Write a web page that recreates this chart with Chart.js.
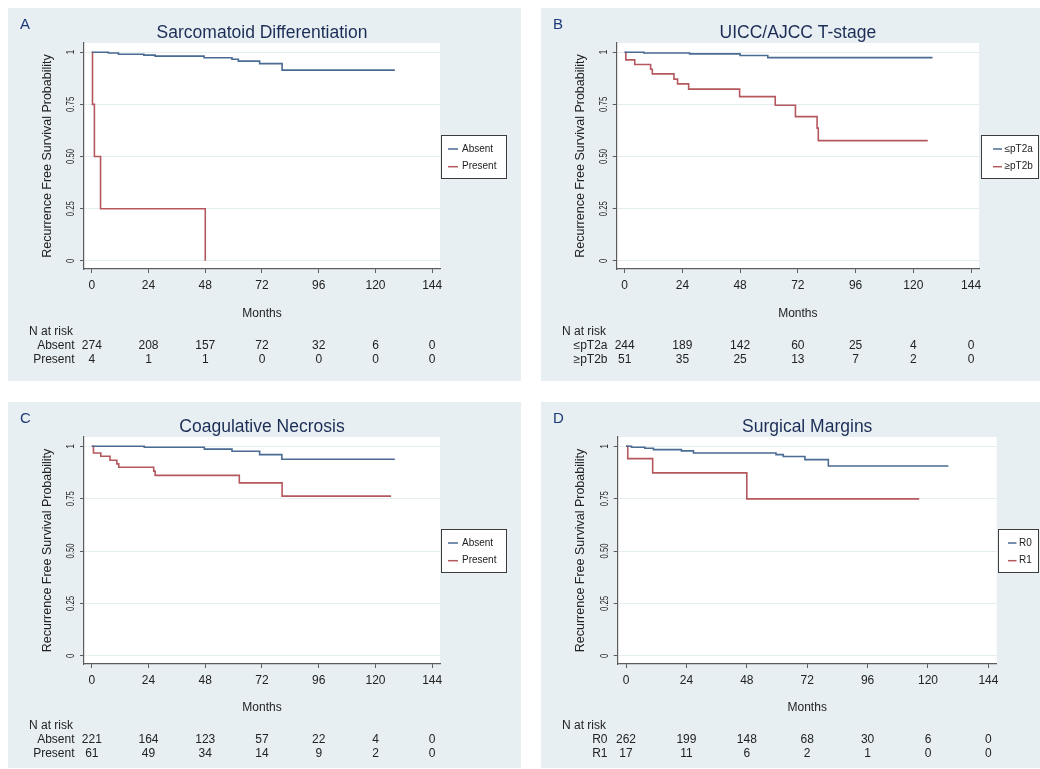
<!DOCTYPE html>
<html><head><meta charset="utf-8">
<script src="https://cdn.jsdelivr.net/npm/chart.js@4.4.1/dist/chart.umd.min.js"></script>
<style>
html,body{margin:0;padding:0;background:#fff;width:1040px;height:769px;overflow:hidden}
canvas{position:absolute;display:block}
</style></head><body>
<canvas id="cA" width="513" height="373" style="left:8px;top:8px;width:513px;height:373px"></canvas>
<canvas id="cB" width="499" height="373" style="left:541px;top:8px;width:499px;height:373px"></canvas>
<canvas id="cC" width="513" height="366" style="left:8px;top:402px;width:513px;height:366px"></canvas>
<canvas id="cD" width="499" height="366" style="left:541px;top:402px;width:499px;height:366px"></canvas>
<script>
// ---- shared axes ----
const monthTicks = [0, 24, 48, 72, 96, 120, 144];
const probTicks = [0, 0.25, 0.5, 0.75, 1];
const probLabels = ['0', '0.25', '0.50', '0.75', '1'];

// ---- Panel A: Sarcomatoid Differentiation ----
const sarcNames = ['Absent', 'Present'];
const sarcAbsentTime = [0, 7, 11.3, 22, 26.8, 47.5, 59.3, 62, 71, 80.5, 128.2];
const sarcAbsentSurv = [1, 0.996, 0.990, 0.986, 0.981, 0.973, 0.966, 0.957, 0.945, 0.914, 0.914];
const sarcPresentTime = [0, 0.3, 1.1, 3.7, 48];
const sarcPresentSurv = [1, 0.75, 0.5, 0.25, 0];
const sarcAbsentRisk = [274, 208, 157, 72, 32, 6, 0];
const sarcPresentRisk = [4, 1, 1, 0, 0, 0, 0];

// ---- Panel B: UICC/AJCC T-stage ----
const stageNames = ['≤pT2a', '≥pT2b'];
const stageLowTime = [0, 8, 27, 48, 59.5, 128];
const stageLowSurv = [1, 0.996, 0.992, 0.984, 0.974, 0.974];
const stageHighTime = [0, 0.5, 4.2, 10.8, 11.5, 20.5, 22, 26.6, 47.8, 62.6, 71, 80, 80.5, 126];
const stageHighSurv = [1, 0.963, 0.941, 0.918, 0.896, 0.871, 0.848, 0.823, 0.787, 0.746, 0.691, 0.636, 0.576, 0.576];
const stageLowRisk = [244, 189, 142, 60, 25, 4, 0];
const stageHighRisk = [51, 35, 25, 13, 7, 2, 0];

// ---- Panel C: Coagulative Necrosis ----
const necNames = ['Absent', 'Present'];
const necAbsentTime = [0, 22.2, 47.6, 59.3, 71, 80.4, 128.2];
const necAbsentSurv = [1, 0.995, 0.986, 0.976, 0.960, 0.938, 0.938];
const necPresentTime = [0, 0.7, 3.8, 7.7, 10.6, 11.4, 26.2, 26.8, 62.4, 80.5, 126.6];
const necPresentSurv = [1, 0.968, 0.952, 0.933, 0.916, 0.900, 0.881, 0.861, 0.825, 0.762, 0.762];
const necAbsentRisk = [221, 164, 123, 57, 22, 4, 0];
const necPresentRisk = [61, 49, 34, 14, 9, 2, 0];

// ---- Panel D: Surgical Margins ----
const marginNames = ['R0', 'R1'];
const marginR0Time = [0, 2.2, 7.5, 10.9, 22, 26.8, 59.6, 62.5, 71.1, 80.4, 128.1];
const marginR0Surv = [1, 0.995, 0.990, 0.984, 0.978, 0.968, 0.960, 0.951, 0.936, 0.906, 0.906];
const marginR1Time = [0, 0.7, 10.6, 48, 116.5];
const marginR1Surv = [1, 0.941, 0.873, 0.749, 0.749];
const marginR0Risk = [262, 199, 148, 68, 30, 6, 0];
const marginR1Risk = [17, 11, 6, 2, 1, 0, 0];

// ---- styling ----
const FONT = '"Liberation Sans", Arial, Helvetica, sans-serif';
Chart.defaults.font.family = FONT;
Chart.defaults.color = '#222';
const BLUE = '#4a6b92', RED = '#b4585e';
const PANEL_BG = '#e8eff2';
const AXIS = '#5c5c5c';

function pts(t, s) { return t.map((x, i) => ({ x: x, y: s[i] })); }

const decor = {
  id: 'decor',
  beforeDraw(chart) {
    const { ctx, chartArea: a, width, height } = chart;
    ctx.save();
    ctx.fillStyle = PANEL_BG; ctx.fillRect(0, 0, width, height);
    ctx.fillStyle = '#fff'; ctx.fillRect(a.left, a.top, a.right - a.left, a.bottom - a.top);
    ctx.restore();
  },
  afterDraw(chart) {
    const o = chart.options.plugins.decor;
    const { ctx, chartArea: a } = chart;
    const xs = chart.scales.x, ys = chart.scales.y;
    const x0 = xs.getPixelForValue(0), x144 = xs.getPixelForValue(144);
    const cx = (x0 + x144) / 2;
    ctx.save();
    // panel letter
    ctx.fillStyle = '#1d3a78'; ctx.font = '15px ' + FONT;
    ctx.textAlign = 'left'; ctx.textBaseline = 'middle';
    ctx.fillText(o.letter, 12, 17);
    // title
    ctx.fillStyle = '#1b2d56'; ctx.font = '17.5px ' + FONT; ctx.textAlign = 'center';
    ctx.fillText(o.title, cx, 25);
    // y axis title
    ctx.fillStyle = '#222'; ctx.font = '12.5px ' + FONT;
    ctx.save(); ctx.translate(40, (a.top + a.bottom) / 2); ctx.rotate(-Math.PI / 2);
    ctx.fillText('Recurrence Free Survival Probability', 0, 0); ctx.restore();
    // y tick labels (rotated)
    ctx.font = '10.5px ' + FONT;
    probTicks.forEach((v, i) => {
      ctx.save(); ctx.translate(a.left - 13, ys.getPixelForValue(v)); ctx.rotate(-Math.PI / 2);
      ctx.scale(0.74, 1);
      ctx.fillText(probLabels[i], 0, 0); ctx.restore();
    });
    // x axis title
    ctx.font = '12px ' + FONT; ctx.textAlign = 'center';
    ctx.fillText('Months', cx, 306);
    // risk table
    ctx.textAlign = 'left'; ctx.fillText('N at risk', 21, 323.5);
    o.risk.forEach((row, r) => {
      const y = 338 + r * 14;
      ctx.textAlign = 'right'; ctx.fillText(o.names[r], 66.5, y);
      ctx.textAlign = 'center';
      row.forEach((n, k) => ctx.fillText(String(n), xs.getPixelForValue(monthTicks[k]), y));
    });
    // legend
    const L = o.legendBox;
    ctx.fillStyle = '#fff'; ctx.fillRect(L.left, 127, L.width, 43);
    ctx.strokeStyle = '#3c3c3c'; ctx.lineWidth = 1;
    ctx.strokeRect(L.left + 0.5, 127.5, L.width, 43);
    ctx.font = '10px ' + FONT; ctx.textAlign = 'left';
    [BLUE, RED].forEach((c, i) => {
      const y = 141 + i * 17.7;
      ctx.strokeStyle = c; ctx.lineWidth = 1.5;
      ctx.beginPath(); ctx.moveTo(L.left + L.line0, y); ctx.lineTo(L.left + L.line1, y); ctx.stroke();
      ctx.fillStyle = '#222'; ctx.fillText(o.names[i], L.left + L.text, y);
    });
    ctx.restore();
  }
};

function makePanel(id, cfg) {
  const canvas = document.getElementById(id);
  const H = canvas.height;
  return new Chart(canvas, {
    type: 'line',
    data: {
      datasets: cfg.series.map((s, i) => ({
        label: cfg.names[i],
        data: pts(s[0], s[1]),
        borderColor: i === 0 ? BLUE : RED,
        borderWidth: 1.6,
        stepped: 'before',
        pointRadius: 0,
        fill: false,
        tension: 0
      }))
    },
    options: {
      responsive: false,
      animation: false,
      devicePixelRatio: 1,
      layout: { padding: { left: 0, top: 35, right: cfg.padRight, bottom: 0 } },
      plugins: {
        legend: { display: false },
        tooltip: { enabled: false },
        decor: cfg
      },
      scales: {
        x: {
          type: 'linear', min: -3.3, max: 147.3,
          afterBuildTicks: s => { s.ticks = monthTicks.map(v => ({ value: v })); },
          afterFit: s => { s.height = H - cfg.bottom; },
          ticks: { font: { size: 12 }, color: '#222', padding: 5, maxRotation: 0, autoSkip: false },
          grid: { drawOnChartArea: false, drawTicks: true, tickLength: 4, tickColor: AXIS, color: AXIS },
          border: { display: true, color: AXIS, width: 1.2 }
        },
        y: {
          type: 'linear', min: -0.039, max: 1.044,
          afterBuildTicks: s => { s.ticks = probTicks.map(v => ({ value: v })); },
          afterFit: s => { s.width = cfg.yWidth; },
          ticks: { display: false },
          grid: { drawOnChartArea: true, drawTicks: true, tickLength: 4, tickColor: AXIS, color: '#e4edf0', lineWidth: 1 },
          border: { display: true, color: AXIS, width: 1.2 }
        }
      }
    },
    plugins: [decor]
  });
}

makePanel('cA', {
  letter: 'A', title: 'Sarcomatoid Differentiation', names: sarcNames,
  series: [[sarcAbsentTime, sarcAbsentSurv], [sarcPresentTime, sarcPresentSurv]],
  risk: [sarcAbsentRisk, sarcPresentRisk],
  yWidth: 76, padRight: 81, bottom: 261,
  legendBox: { left: 433, width: 65, line0: 7, line1: 17, text: 21 }
});
makePanel('cB', {
  letter: 'B', title: 'UICC/AJCC T-stage', names: stageNames,
  series: [[stageLowTime, stageLowSurv], [stageHighTime, stageHighSurv]],
  risk: [stageLowRisk, stageHighRisk],
  yWidth: 75.7, padRight: 61, bottom: 261,
  legendBox: { left: 440, width: 57, line0: 12, line1: 21, text: 23.5 }
});
makePanel('cC', {
  letter: 'C', title: 'Coagulative Necrosis', names: necNames,
  series: [[necAbsentTime, necAbsentSurv], [necPresentTime, necPresentSurv]],
  risk: [necAbsentRisk, necPresentRisk],
  yWidth: 76, padRight: 81, bottom: 262,
  legendBox: { left: 433, width: 65, line0: 7, line1: 17, text: 21 }
});
makePanel('cD', {
  letter: 'D', title: 'Surgical Margins', names: marginNames,
  series: [[marginR0Time, marginR0Surv], [marginR1Time, marginR1Surv]],
  risk: [marginR0Risk, marginR1Risk],
  yWidth: 76.7, padRight: 43.3, bottom: 262,
  legendBox: { left: 457, width: 40, line0: 10, line1: 18.5, text: 21 }
});
</script>
</body></html>
